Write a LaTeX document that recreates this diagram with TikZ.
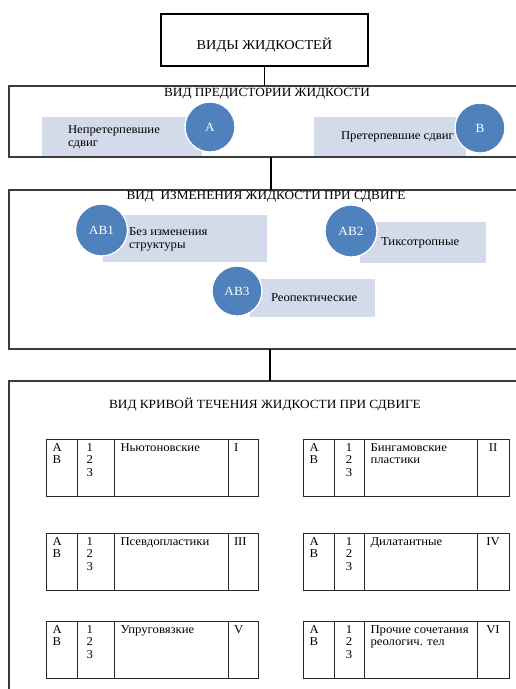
\documentclass[tikz,border=0pt]{standalone}
\usepackage{fontspec}
\setmainfont{Liberation Serif}[FakeStretch=1.06]
\definecolor{circblue}{RGB}{79,129,189}
\definecolor{rectfill}{RGB}{211,218,233}
\definecolor{framegray}{RGB}{60,60,60}

\newcommand{\fluidtable}[9]{%
  % #1 id, #2 x, #3 y, #4 w2, #5 w3, #6 w4, #7 name, #8 roman, #9 numbers/roman style
  \node[cell, minimum width=31pt] (#1a) at (#2,#3) {};
  \node[cell, minimum width=#4pt] (#1b) at (#1a.north east) {};
  \node[cell, minimum width=#5pt] (#1c) at (#1b.north east) {};
  \node[cell, minimum width=#6pt] (#1d) at (#1c.north east) {};
  \node[celltext] (#1at) at ([xshift=6.5pt,yshift=-4.3pt]#1a.north west) {А\\В};
  \node[celltext] (#1ct) at ([xshift=6.5pt,yshift=-4.3pt]#1c.north west) {#7};
  \node[#9] (#1bt) at (#1b.north) {1\\2\\3};
  \node[#9] (#1dt) at (#1d.north) {#8};
}

\begin{document}
\begin{tikzpicture}[x=1pt,y=-1pt,
  every node/.style={font=\fontsize{12}{12.5}\selectfont, inner sep=0pt, outer sep=0pt},
  topbox/.style={draw=black, line width=2pt, minimum width=207pt, minimum height=52pt},
  framebox/.style={draw=framegray, line width=1.1pt, minimum width=520pt},
  titletext/.style={font=\fontsize{12.5}{13}\selectfont},
  softrect/.style={fill=rectfill},
  circ/.style={circle, fill=circblue, draw=white, line width=1.3pt, text=white,
    minimum size=#1, font=\fontsize{12.5}{13}\selectfont},
  circ/.default=50pt,
  lbl/.style={anchor=west, align=left},
  cell/.style={draw=black!85, line width=1pt, minimum height=57pt, anchor=north west},
  celltext/.style={anchor=north west, align=left},
  leftcol/.style={anchor=north west, align=left, xshift=-9pt, yshift=-4.3pt},
  centcol/.style={anchor=north, align=center, yshift=-4.3pt},
  leftcolr/.style={anchor=north west, align=left, xshift=-10pt, yshift=-4.3pt}
]
\useasboundingbox (0,0) rectangle (516,689);
\clip (0,0) rectangle (516,689);

% frames
\node[topbox] (vidy) at (264.5,40) {};
\node[font=\fontsize{13.5}{14}\selectfont] (vidyt) at (264.5,45) {ВИДЫ ЖИДКОСТЕЙ};
\node[framebox, minimum height=71pt] (pred) at (269,121.5) {};
\node[framebox, minimum height=159pt] (izm) at (269,269.5) {};
\node[framebox, minimum height=339pt] (kriv) at (269,550.5) {};

% connectors
\draw[line width=0.9pt] (vidy.south) -- (vidy.south |- pred.north);
\coordinate (j1) at ([xshift=2pt]pred.south);
\coordinate (j2) at ([xshift=1pt]izm.south);
\draw[line width=1.8pt] (j1) -- (j1 |- izm.north);
\draw[line width=1.8pt] (j2) -- (j2 |- kriv.north);

% titles
\node[titletext] (t1) at (267,94) {ВИД ПРЕДИСТОРИИ ЖИДКОСТИ};
\node[titletext] (t2) at (266,197) {ВИД~~ИЗМЕНЕНИЯ ЖИДКОСТИ ПРИ СДВИГЕ};
\node[titletext] (t3) at (265,405) {ВИД КРИВОЙ ТЕЧЕНИЯ ЖИДКОСТИ ПРИ СДВИГЕ};

% history of fluid
\node[softrect, minimum width=160pt, minimum height=39pt] (rA) at (122,136.5) {};
\node[lbl] (lA) at (68,137) {Непретерпевшие\\сдвиг};
\node[circ] (cA) at (210,127) {А};
\node[softrect, minimum width=152pt, minimum height=39pt] (rB) at (390,136.5) {};
\node[lbl] (lB) at (341,137) {Претерпевшие сдвиг};
\node[circ] (cB) at (480,128) {В};

% change under shear
\node[softrect, minimum width=164pt, minimum height=47pt] (rAB1) at (185,238.5) {};
\node[lbl] (lAB1) at (129,239.5) {Без изменения\\структуры};
\node[circ=52pt] (cAB1) at (101.5,230) {АВ1};
\node[softrect, minimum width=126pt, minimum height=41pt] (rAB2) at (423,242.5) {};
\node[lbl] (lAB2) at (381,243) {Тиксотропные};
\node[circ=52pt] (cAB2) at (351,231) {АВ2};
\node[softrect, minimum width=125pt, minimum height=38pt] (rAB3) at (312.5,298) {};
\node[lbl] (lAB3) at (271,298) {Реопектические};
\node[circ] (cAB3) at (237,291) {АВ3};

% flow curve tables
\fluidtable{tI}{46}{439}{37}{114}{30}{Ньютоновские}{I}{leftcol}
\fluidtable{tII}{303}{439}{30}{113}{32}{Бингамовские\\пластики}{II}{centcol}
\fluidtable{tIII}{46}{533}{37}{114}{30}{Псевдопластики}{III}{leftcol}
\fluidtable{tIV}{303}{533}{30}{113}{32}{Дилатантные}{IV}{centcol}
\fluidtable{tV}{46}{621}{37}{114}{30}{Упруговязкие}{V}{leftcol}
\fluidtable{tVI}{303}{621}{30}{113}{32}{Прочие сочетания\\реологич. тел}{VI}{centcol}
\end{tikzpicture}
\end{document}
